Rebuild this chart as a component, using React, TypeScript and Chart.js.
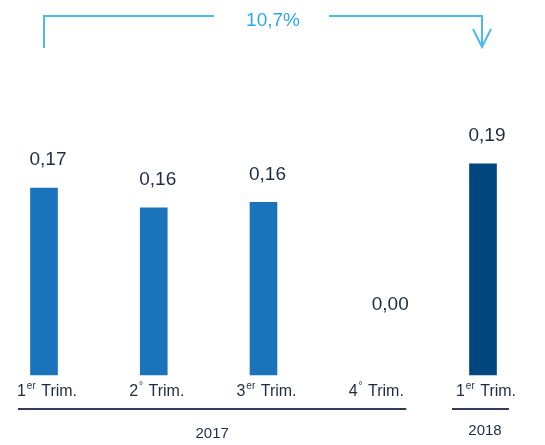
import React, { useEffect, useRef } from "react";
import { Chart, registerables } from "chart.js";

Chart.register(...registerables);

const categories = ["1T17", "2T17", "3T17", "4T17", "1T18"];
const quarterNums = ["1", "2", "3", "4", "1"];
const quarterSups = ["er", "°", "er", "°", "er"];
const values = [0.17, 0.152, 0.157, 0, 0.192];
const valueLabels = ["0,17", "0,16", "0,16", "0,00", "0,19"];
const barColors = ["#1b74bb", "#1b74bb", "#1b74bb", "#1b74bb", "#00467f"];
const years = ["2017", "2018"];
const growthLabel = "10,7%";

const FONT = "'Liberation Sans', Arial, sans-serif";

const overlayPlugin = {
  id: "overlay",
  afterDatasetsDraw(chart: any) {
    const ctx = chart.ctx;
    const xs = chart.scales.x;
    const ys = chart.scales.y;
    const base = ys.getPixelForValue(0);
    const meta = chart.getDatasetMeta(0);
    ctx.save();

    // value labels
    ctx.fillStyle = "#1e2b45";
    ctx.font = `19px ${FONT}`;
    ctx.textAlign = "center";
    ctx.textBaseline = "middle";
    meta.data.forEach((bar: any, i: number) => {
      const v = values[i];
      if (v === 0) {
        ctx.fillText(valueLabels[i], bar.x + 17, base - 70);
      } else {
        ctx.fillText(valueLabels[i], bar.x + 4, bar.y - 28);
      }
    });

    // category labels with superscripts
    categories.forEach((_, i) => {
      const cx = xs.getPixelForValue(i) + 3;
      const num = quarterNums[i];
      const sup = quarterSups[i];
      const rest = " Trim.";
      ctx.font = `16px ${FONT}`;
      const wNum = ctx.measureText(num).width;
      const wRest = ctx.measureText(rest).width;
      ctx.font = `10px ${FONT}`;
      const wSup = ctx.measureText(sup).width;
      const total = wNum + wSup + 2 + wRest;
      let x = cx - total / 2;
      const y = base + 17;
      ctx.textAlign = "left";
      ctx.textBaseline = "middle";
      ctx.font = `16px ${FONT}`;
      ctx.fillStyle = "#1e2b45";
      ctx.fillText(num, x, y);
      x += wNum + 1;
      ctx.font = `10px ${FONT}`;
      ctx.fillText(sup, x, y - 6);
      x += wSup + 1;
      ctx.font = `16px ${FONT}`;
      ctx.fillText(rest, x, y);
    });

    // group lines
    const x0 = xs.getPixelForValue(0);
    const x3 = xs.getPixelForValue(3);
    const x4 = xs.getPixelForValue(4);
    ctx.strokeStyle = "#2c3d5c";
    ctx.lineWidth = 2;
    ctx.beginPath();
    ctx.moveTo(x0 - 26, base + 34);
    ctx.lineTo(x3 + 33, base + 34);
    ctx.moveTo(x4 - 31, base + 34);
    ctx.lineTo(x4 + 26, base + 34);
    ctx.stroke();

    ctx.fillStyle = "#1e2b45";
    ctx.font = `15px ${FONT}`;
    ctx.textAlign = "center";
    ctx.fillText(years[0], (x0 - 26 + x3 + 33) / 2, base + 59);
    ctx.fillText(years[1], x4 + 2, base + 56);

    // growth annotation
    const ay = 16;
    const ax0 = x0;
    const ax1 = x4 - 1;
    ctx.strokeStyle = "#4db8f2";
    ctx.lineWidth = 2;
    ctx.beginPath();
    ctx.moveTo(ax0, 48);
    ctx.lineTo(ax0, ay);
    ctx.lineTo(ax0 + 170, ay);
    ctx.moveTo(ax1 - 153, ay);
    ctx.lineTo(ax1, ay);
    ctx.lineTo(ax1, 47);
    ctx.moveTo(ax1 - 9, 29);
    ctx.lineTo(ax1, 47);
    ctx.lineTo(ax1 + 9, 29);
    ctx.stroke();
    ctx.fillStyle = "#2aa9ef";
    ctx.font = `19px ${FONT}`;
    ctx.textBaseline = "middle";
    ctx.fillText(growthLabel, 273, 21);

    ctx.restore();
  },
};

export default function App() {
  const ref = useRef<HTMLCanvasElement | null>(null);
  useEffect(() => {
    document.body.style.margin = "0";
    const chart = new Chart(ref.current as HTMLCanvasElement, {
      type: "bar",
      data: {
        labels: categories,
        datasets: [
          {
            data: values,
            backgroundColor: (c: any) =>
              c.raw === 0 ? "rgba(0,0,0,0)" : barColors[c.dataIndex],
            borderWidth: 0,
            barThickness: 27,
            clip: false as any,
          },
        ],
      },
      options: {
        animation: false,
        responsive: false,
        maintainAspectRatio: false,
        layout: { padding: { left: 44, right: 62, top: 100, bottom: 70 } },
        plugins: { legend: { display: false }, tooltip: { enabled: false } },
        scales: {
          x: { display: false, offset: false, grid: { display: false } },
          y: { display: false, min: 0, max: 0.25 },
        },
      },
      plugins: [overlayPlugin],
    });
    return () => chart.destroy();
  }, []);
  return (
    <div style={{ width: 545, height: 445, background: "#fff" }}>
      <canvas ref={ref} width={545} height={445} style={{ width: 545, height: 445, display: "block" }} />
    </div>
  );
}
